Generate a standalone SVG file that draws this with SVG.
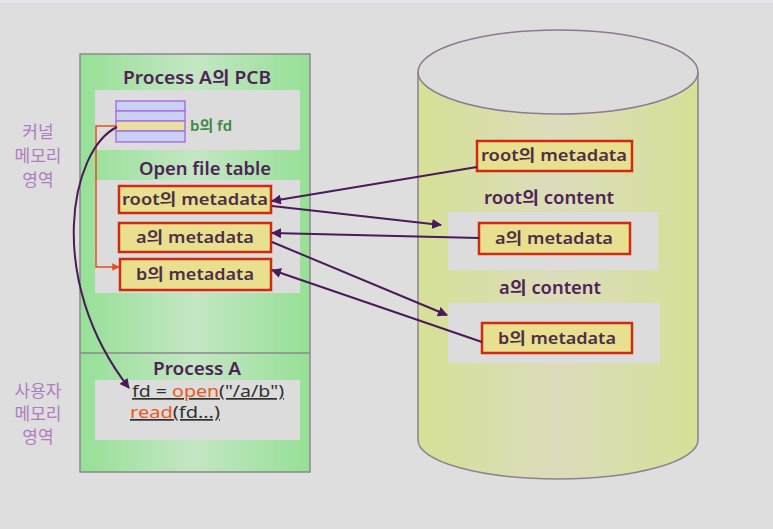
<svg xmlns="http://www.w3.org/2000/svg" width="773" height="529" viewBox="0 0 773 529">
<defs>
<linearGradient id="gGreen" x1="0" y1="0" x2="1" y2="0">
<stop offset="0" stop-color="#96e096"/><stop offset="0.5" stop-color="#c4e6c4"/><stop offset="1" stop-color="#96e096"/>
</linearGradient>
<linearGradient id="gCyl" x1="0" y1="0" x2="1" y2="0">
<stop offset="0" stop-color="#d6e096"/><stop offset="0.5" stop-color="#dcdcbc"/><stop offset="1" stop-color="#d6e096"/>
</linearGradient>
<marker id="arr" viewBox="0 0 10 10" refX="9" refY="5" markerWidth="5" markerHeight="5" orient="auto-start-reverse">
<path d="M0,0 L10,5 L0,10 z" fill="#4a1a5a"/>
</marker>
<marker id="arrO" viewBox="0 0 10 10" refX="9" refY="5" markerWidth="5" markerHeight="5" orient="auto">
<path d="M0,0 L10,5 L0,10 z" fill="#e05020"/>
</marker>
<style>
text{font-family:"Noto Sans","Noto Sans CJK KR",sans-serif;}
.t{font-size:17px;fill:#4e2458;text-anchor:middle;font-weight:600;}
.side{font-size:17px;fill:#b07cc0;text-anchor:middle;}
.meta{fill:#e8e08e;stroke:#d02a10;stroke-width:2.5;}
.mt{font-size:16px;fill:#4e2e48;text-anchor:middle;font-weight:600;}
.inner{fill:#dcdcdc;}
.conn{fill:none;stroke:#4a1a5a;stroke-width:2;}
.row{fill:#c8d0f4;stroke:#b070e0;stroke-width:1.5;}
.code{font-size:17px;fill:#303030;}
</style>
</defs>
<rect width="773" height="529" fill="#dedede"/>
<rect width="773" height="3" fill="#e8e4ee"/>

<g id="kernel-label">
<text class="side" x="38" y="138">커널</text>
<text class="side" x="38" y="162">메모리</text>
<text class="side" x="38" y="186">영역</text>
</g>
<g id="user-label">
<text class="side" x="38" y="397">사용자</text>
<text class="side" x="38" y="420">메모리</text>
<text class="side" x="38" y="443">영역</text>
</g>

<g id="memory-box">
<rect x="80" y="54" width="230" height="418" fill="url(#gGreen)" stroke="#8a8a8a" stroke-width="1.5"/>
<line x1="80" y1="353" x2="310" y2="353" stroke="#8a8a8a" stroke-width="1.5"/>
</g>

<g id="pcb">
<text class="t" x="197" y="84" textLength="148" lengthAdjust="spacingAndGlyphs">Process A의 PCB</text>
<rect class="inner" x="95" y="90" width="205" height="60"/>
</g>
<g id="fd-table">
<rect class="row" x="116" y="101" width="69" height="10"/>
<rect class="row" x="116" y="111" width="69" height="10"/>
<rect x="116" y="121" width="69" height="10" fill="#e8e0a0" stroke="#b070e0" stroke-width="1.5"/>
<rect class="row" x="116" y="131" width="69" height="11"/>
<text x="190" y="131" font-size="15" font-weight="600" fill="#3a8a3a">b의 fd</text>
</g>

<g id="open-file-table">
<text class="t" x="205" y="175" textLength="132" lengthAdjust="spacingAndGlyphs">Open file table</text>
<rect class="inner" x="95" y="180" width="205" height="113"/>
</g>
<g id="oft-root">
<rect class="meta" x="119" y="186" width="152" height="27"/>
<text class="mt" x="195" y="205" textLength="146" lengthAdjust="spacingAndGlyphs">root의 metadata</text>
</g>
<g id="oft-a">
<rect class="meta" x="119" y="223" width="152" height="29"/>
<text class="mt" x="195" y="243" textLength="118" lengthAdjust="spacingAndGlyphs">a의 metadata</text>
</g>
<g id="oft-b">
<rect class="meta" x="120" y="259" width="151" height="31"/>
<text class="mt" x="195" y="280" textLength="118" lengthAdjust="spacingAndGlyphs">b의 metadata</text>
</g>

<g id="process-a">
<text class="t" x="197" y="375" textLength="88" lengthAdjust="spacingAndGlyphs">Process A</text>
<rect class="inner" x="95" y="380" width="205" height="60"/>
<text class="code" x="132" y="397" text-decoration="underline" textLength="152" lengthAdjust="spacingAndGlyphs">fd = <tspan fill="#e85a20">open</tspan>("/a/b")</text>
<text class="code" x="130" y="418" text-decoration="underline" textLength="90" lengthAdjust="spacingAndGlyphs"><tspan fill="#e85a20">read</tspan>(fd…)</text>
</g>

<g id="disk">
<path d="M418,72 L418,440 A140,39 0 0 0 698,440 L698,72" fill="url(#gCyl)" stroke="#908090" stroke-width="1.5"/>
<ellipse cx="558" cy="72" rx="140" ry="42" fill="#dcdcdc" stroke="#907890" stroke-width="1.5"/>
</g>
<g id="disk-root-meta">
<rect class="meta" x="477" y="141" width="155" height="30"/>
<text class="mt" x="554" y="161" textLength="146" lengthAdjust="spacingAndGlyphs">root의 metadata</text>
</g>
<g id="root-content">
<text class="t" x="549" y="204" textLength="130" lengthAdjust="spacingAndGlyphs">root의 content</text>
<rect class="inner" x="448" y="212" width="210" height="58"/>
</g>
<g id="disk-a-meta">
<rect class="meta" x="479" y="223" width="151" height="31"/>
<text class="mt" x="554" y="244" textLength="118" lengthAdjust="spacingAndGlyphs">a의 metadata</text>
</g>
<g id="a-content">
<text class="t" x="550" y="294" textLength="102" lengthAdjust="spacingAndGlyphs">a의 content</text>
<rect class="inner" x="448" y="303" width="212" height="60"/>
</g>
<g id="disk-b-meta">
<rect class="meta" x="482" y="323" width="150" height="30"/>
<text class="mt" x="557" y="344" textLength="118" lengthAdjust="spacingAndGlyphs">b의 metadata</text>
</g>

<g id="connectors">
<path d="M117,126 L96,126 L96,267 L119,267" fill="none" stroke="#e05020" stroke-width="1.5" marker-end="url(#arrO)"/>
<path class="conn" d="M117,127 C70,150 45,280 129,388" marker-end="url(#arr)"/>
<path class="conn" d="M477,167 L272,201" marker-end="url(#arr)"/>
<path class="conn" d="M272,206 L441,225" marker-end="url(#arr)"/>
<path class="conn" d="M479,238 L272,233" marker-end="url(#arr)"/>
<path class="conn" d="M272,242 L447,315" marker-end="url(#arr)"/>
<path class="conn" d="M482,342 L272,270" marker-end="url(#arr)"/>
</g>
</svg>
